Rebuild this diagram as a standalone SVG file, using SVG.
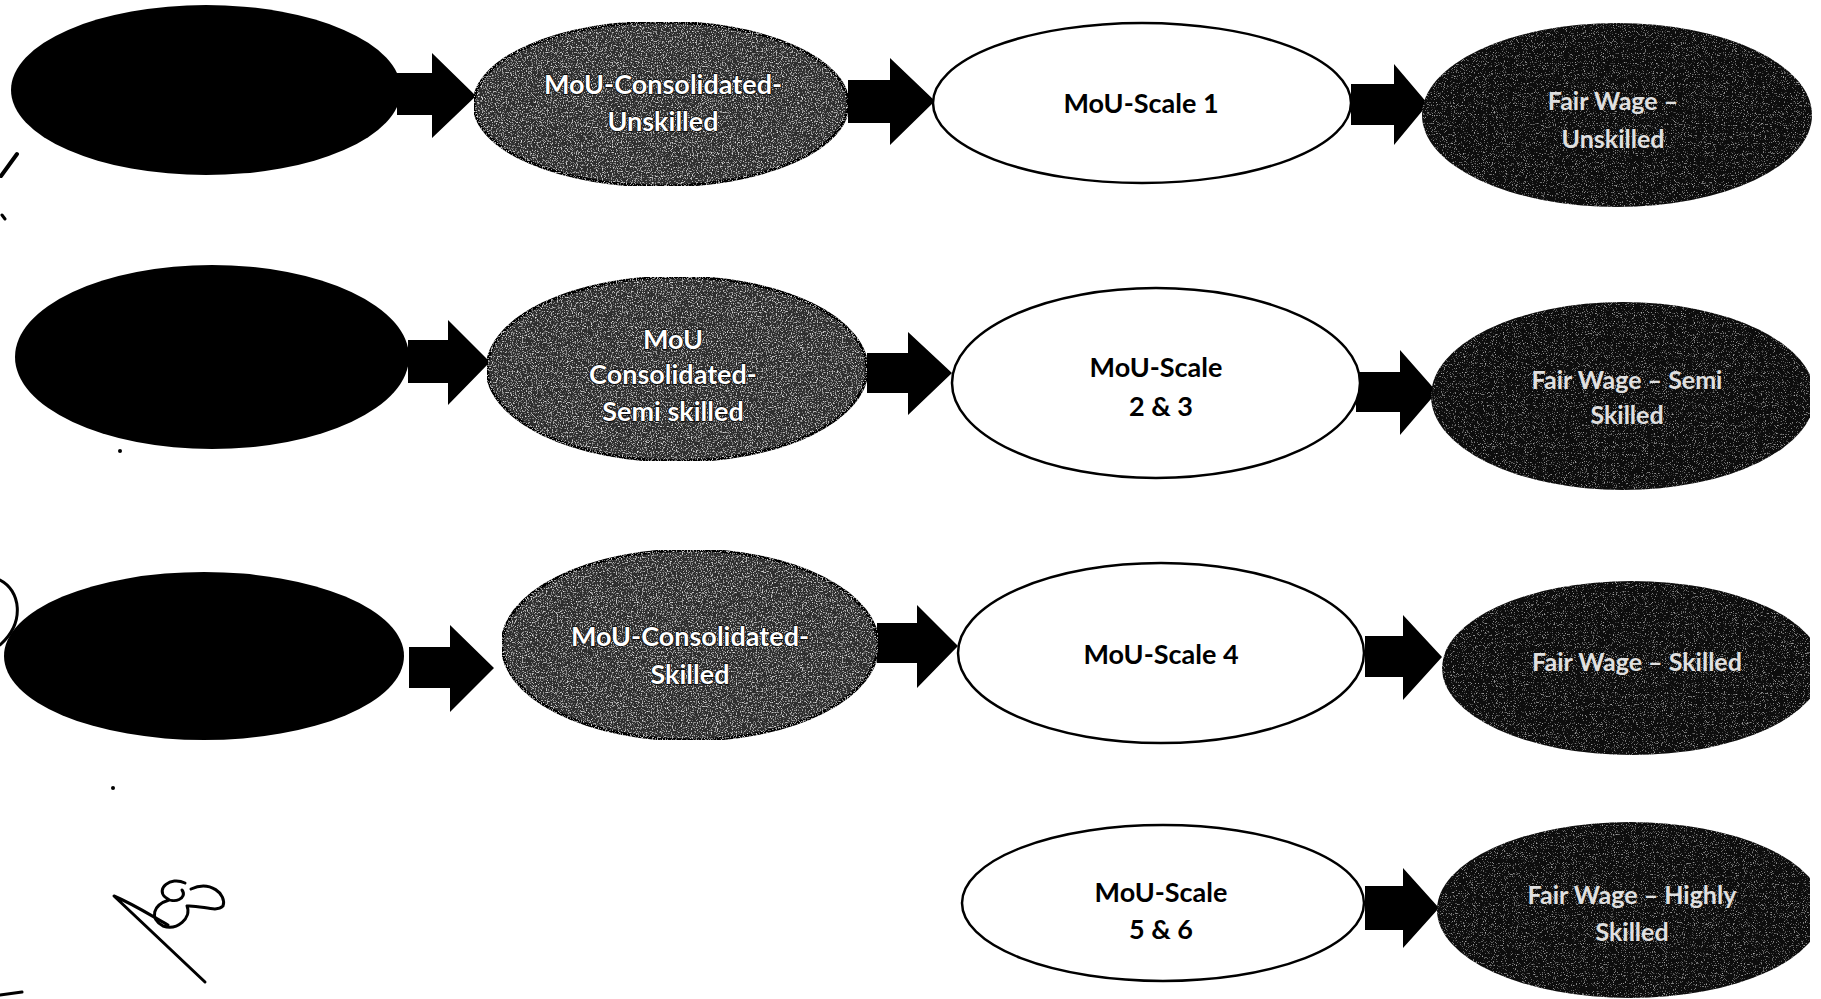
<svg xmlns="http://www.w3.org/2000/svg" width="1821" height="999" viewBox="0 0 1821 999">
<defs>
<style>
.blk{fill:#000}
.mid{fill:#2e2e2e;stroke:#000;stroke-width:3}
.wht{fill:#fff;stroke:#000;stroke-width:2.5}
.drk{fill:#0b0b0b}
.arr{fill:#000}
.t{font-family:Lato,"Liberation Sans",sans-serif;font-weight:bold;text-anchor:middle}
.tw{fill:#fff;stroke:#000;stroke-width:1.4;paint-order:stroke;font-size:27px}
.tb{fill:#000;font-size:27px}
.tr{fill:#e0e0e0;font-size:25px}
.ink{fill:none;stroke:#000;stroke-width:3;stroke-linecap:round;stroke-linejoin:round}
</style>
<filter id="grain" x="0" y="0" width="100%" height="100%">
<feTurbulence type="fractalNoise" baseFrequency="0.8" numOctaves="3" seed="3" result="n"/>
<feColorMatrix in="n" type="matrix" values="0 0 0 0 0.85  0 0 0 0 0.85  0 0 0 0 0.85  3 0 0 0 -1.6" result="spk"/>
<feComposite in="spk" in2="SourceGraphic" operator="in" result="s2"/>
<feMerge><feMergeNode in="SourceGraphic"/><feMergeNode in="s2"/></feMerge>
</filter>
<filter id="grain2" x="0" y="0" width="100%" height="100%">
<feTurbulence type="fractalNoise" baseFrequency="0.9" numOctaves="2" seed="7" result="n"/>
<feColorMatrix in="n" type="matrix" values="0 0 0 0 1  0 0 0 0 1  0 0 0 0 1  1.6 0 0 0 -0.95" result="spk"/>
<feComposite in="spk" in2="SourceGraphic" operator="in" result="s2"/>
<feMerge><feMergeNode in="SourceGraphic"/><feMergeNode in="s2"/></feMerge>
</filter>
<clipPath id="edge"><rect x="0" y="0" width="1810" height="999"/></clipPath>
</defs>
<rect width="1821" height="999" fill="#fff"/>

<g id="connectors">
<polygon class="arr" points="397,73 432,73 432,53 476,96 432,138 432,115 397,115"/>
<polygon class="arr" points="848,80 890,80 890,58 935,101 890,145 890,123 848,123"/>
<polygon class="arr" points="1351,84 1394,84 1394,64 1428,104 1394,145 1394,125 1351,125"/>
<polygon class="arr" points="408,340 448,340 448,320 490,362 448,405 448,383 408,383"/>
<polygon class="arr" points="867,353 908,353 908,332 952,373 908,415 908,393 867,393"/>
<polygon class="arr" points="1356,372 1400,372 1400,350 1437,392 1400,435 1400,412 1356,412"/>
<polygon class="arr" points="409,647 450,647 450,625 494,668 450,712 450,688 409,688"/>
<polygon class="arr" points="877,623 917,623 917,605 958,646 917,688 917,663 877,663"/>
<polygon class="arr" points="1365,636 1403,636 1403,615 1442,657 1403,700 1403,677 1365,677"/>
<polygon class="arr" points="1365,886 1403,886 1403,868 1439,908 1403,948 1403,930 1365,930"/>
</g>

<g id="src-unskilled"><ellipse class="blk" cx="206" cy="90" rx="195" ry="85"/></g>
<g id="mou-cons-unskilled">
<ellipse class="mid" cx="661" cy="104" rx="187" ry="82" filter="url(#grain)"/>
<text class="t tw" x="663" y="94">MoU-Consolidated-</text>
<text class="t tw" x="663" y="131">Unskilled</text>
</g>
<g id="mou-scale-1">
<ellipse class="wht" cx="1142" cy="103" rx="209" ry="80"/>
<text class="t tb" x="1141" y="113">MoU-Scale 1</text>
</g>
<g id="fw-unskilled">
<ellipse class="drk" cx="1617" cy="115" rx="195" ry="92" filter="url(#grain2)"/>
<text class="t tr" x="1613" y="110">Fair Wage –</text>
<text class="t tr" x="1613" y="148">Unskilled</text>
</g>

<g id="src-semiskilled"><ellipse class="blk" cx="212" cy="357" rx="197" ry="92"/></g>
<g id="mou-cons-semiskilled">
<ellipse class="mid" cx="677" cy="369" rx="190" ry="92" filter="url(#grain)"/>
<text class="t tw" x="673" y="349">MoU</text>
<text class="t tw" x="673" y="384">Consolidated-</text>
<text class="t tw" x="673" y="421">Semi skilled</text>
</g>
<g id="mou-scale-2-3">
<ellipse class="wht" cx="1156" cy="383" rx="204" ry="95"/>
<text class="t tb" x="1156" y="377">MoU-Scale</text>
<text class="t tb" x="1161" y="416">2 &amp; 3</text>
</g>
<g id="fw-semiskilled" clip-path="url(#edge)">
<ellipse class="drk" cx="1623" cy="396" rx="192" ry="94" filter="url(#grain2)"/>
<text class="t tr" x="1627" y="389">Fair Wage – Semi</text>
<text class="t tr" x="1627" y="424">Skilled</text>
</g>

<g id="src-skilled"><ellipse class="blk" cx="204" cy="656" rx="200" ry="84"/></g>
<g id="mou-cons-skilled">
<ellipse class="mid" cx="690" cy="645" rx="188" ry="95" filter="url(#grain)"/>
<text class="t tw" x="690" y="646">MoU-Consolidated-</text>
<text class="t tw" x="690" y="684">Skilled</text>
</g>
<g id="mou-scale-4">
<ellipse class="wht" cx="1161" cy="653" rx="203" ry="90"/>
<text class="t tb" x="1161" y="664">MoU-Scale 4</text>
</g>
<g id="fw-skilled" clip-path="url(#edge)">
<ellipse class="drk" cx="1632" cy="668" rx="190" ry="87" filter="url(#grain2)"/>
<text class="t tr" x="1637" y="671">Fair Wage – Skilled</text>
</g>

<g id="mou-scale-5-6">
<ellipse class="wht" cx="1163" cy="903" rx="201" ry="78"/>
<text class="t tb" x="1161" y="902">MoU-Scale</text>
<text class="t tb" x="1161" y="939">5 &amp; 6</text>
</g>
<g id="fw-highly-skilled" clip-path="url(#edge)">
<ellipse class="drk" cx="1630" cy="910" rx="193" ry="88" filter="url(#grain2)"/>
<text class="t tr" x="1632" y="904">Fair Wage – Highly</text>
<text class="t tr" x="1632" y="941">Skilled</text>
</g>

<g id="handwriting">
<path class="ink" d="M1 176 L17 154" style="stroke-width:4"/>
<path class="ink" d="M2 215 L5 219"/>
<path class="ink" d="M0 580 C20 590 26 622 0 645"/>
<path class="ink" d="M205 982 L114 896 C135 905 150 915 168 925"/>
<path class="ink" d="M185 883 C170 876 156 889 165 897 C174 905 188 898 182 890 M169 900 C153 905 149 918 163 926 C177 931 192 918 187 906 C202 905 216 913 223 906 C227 894 210 880 191 889"/>
<path class="ink" d="M0 995 L22 992"/>
<circle cx="120" cy="451" r="2" fill="#000"/>
<circle cx="113" cy="788" r="2" fill="#000"/>
</g>
</svg>
